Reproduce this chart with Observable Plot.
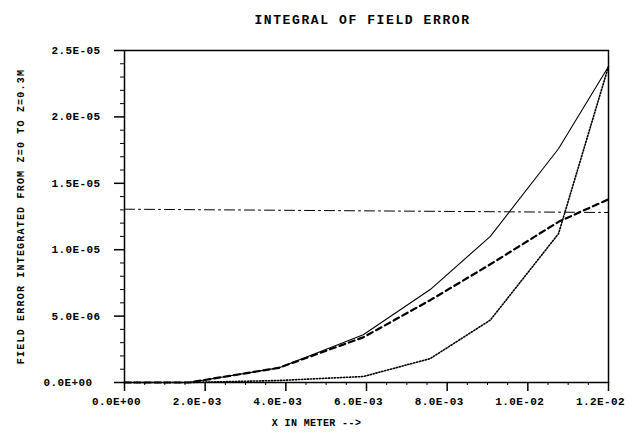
<!DOCTYPE html>
<html>
<head>
<meta charset="utf-8">
<script src="https://cdn.jsdelivr.net/npm/d3@7"></script>
<script src="https://cdn.jsdelivr.net/npm/@observablehq/plot@0.6"></script>
<style>
  html, body { margin: 0; padding: 0; background: #fff; }
  svg { display: block; }
  svg text { letter-spacing: 1.2px; }
  svg text.ttl { letter-spacing: 1.6px; }
  svg text.xl { letter-spacing: 0.4px; }
  svg g.xt text { letter-spacing: 0.4px; }
</style>
</head>
<body>
<div id="chart"></div>
<script>
// ---- data ----
const title = "INTEGRAL OF FIELD ERROR";
const xLabel = "X IN METER -->";
const yLabel = "FIELD ERROR INTEGRATED FROM Z=0 TO Z=0.3M";

const xNodes = [0, 0.0016, 0.00382, 0.00592, 0.00758, 0.00907, 0.01076, 0.012];
const solidVals  = [0, 0, 1.1e-6, 3.6e-6, 7.0e-6, 11.0e-6, 17.6e-6, 23.8e-6];
const dashedVals = [0, 0, 1.1e-6, 3.4e-6, 6.2e-6, 8.9e-6, 12.1e-6, 13.8e-6];
const dottedVals = [0, 0, 0.15e-6, 0.45e-6, 1.8e-6, 4.7e-6, 11.2e-6, 23.8e-6];
const refX = [0, 0.012];
const refVals = [1.305e-5, 1.28e-5];

const xTicks = [0, 0.002, 0.004, 0.006, 0.008, 0.010, 0.012];
const xTickLabels = ["0.0E+00", "2.0E-03", "4.0E-03", "6.0E-03", "8.0E-03", "1.0E-02", "1.2E-02"];
const yTicks = [0, 5e-6, 1e-5, 1.5e-5, 2e-5, 2.5e-5];
const yTickLabels = ["0.0E+00", "5.0E-06", "1.0E-05", "1.5E-05", "2.0E-05", "2.5E-05"];
const xMinor = d3.range(0, 25).map(i => i * 0.0005).filter(v => !xTicks.some(t => Math.abs(t - v) < 1e-9));
const yMinor = d3.range(0, 26).map(i => i * 1e-6).filter(v => !yTicks.some(t => Math.abs(t - v) < 1e-12));

const mk = (vals) => xNodes.map((x, i) => ({x, y: vals[i]}));
const solid = mk(solidVals);
const dashed = mk(dashedVals);
const dotted = mk(dottedVals);
const ref = refX.map((x, i) => ({x, y: refVals[i]}));

const font = "'Liberation Mono', 'DejaVu Sans Mono', monospace";

const chart = Plot.plot({
  width: 633,
  height: 437,
  marginLeft: 124,
  marginRight: 25,
  marginTop: 50,
  marginBottom: 55,
  style: {fontFamily: font, fontSize: "11px", fontWeight: "bold", color: "#000", background: "#fff"},
  x: {domain: [0, 0.012]},
  y: {domain: [0, 2.5e-5]},
  marks: [
    Plot.frame({stroke: "#000", strokeWidth: 1.5}),
    Plot.axisX(xTicks, {tickSize: 9, tickPadding: 6, tickFormat: (d, i) => xTickLabels[i], fontSize: 11, fontWeight: "bold", strokeWidth: 1.5, label: null, textStroke: null}),
    Plot.axisX(xMinor, {tickSize: 3, tickFormat: () => "", label: null}),
    Plot.axisY(yTicks, {tickSize: 10, tickPadding: 14, tickFormat: (d, i) => yTickLabels[i], fontSize: 11, fontWeight: "bold", strokeWidth: 1.5, label: null}),
    Plot.axisY(yMinor, {tickSize: 4, tickFormat: () => "", label: null}),
    Plot.line(ref, {x: "x", y: "y", stroke: "#000", strokeWidth: 1, strokeDasharray: "10,4,2,4"}),
    Plot.line(dotted, {x: "x", y: "y", stroke: "#000", strokeWidth: 1.6, strokeDasharray: "1.2,1.8"}),
    Plot.line(dashed, {x: "x", y: "y", stroke: "#000", strokeWidth: 2.2, strokeDasharray: "6,4"}),
    Plot.line(solid, {x: "x", y: "y", stroke: "#000", strokeWidth: 1.1}),
    Plot.text([title], {frameAnchor: "top", dy: -36, dx: -4, fontSize: 13, fontWeight: "bold"}),
    Plot.text([xLabel], {frameAnchor: "bottom", dy: 43, dx: -50, fontSize: 10, fontWeight: "bold"}),
    Plot.text([yLabel], {frameAnchor: "left", dx: -104, rotate: -90, textAnchor: "middle", fontSize: 10, fontWeight: "bold"})
  ]
});
// tag texts for letter-spacing tweaks and nudge x tick labels left like the reference
chart.querySelectorAll("text").forEach(t => {
  const s = t.textContent;
  if (s === title) t.classList.add("ttl");
  if (s === xLabel) t.classList.add("xl");
  if (xTickLabels.includes(s)) {
    t.parentNode.classList.add("xt");
    t.setAttribute("dx", "-8");
  }
});
document.getElementById("chart").appendChild(chart);
</script>
</body>
</html>
